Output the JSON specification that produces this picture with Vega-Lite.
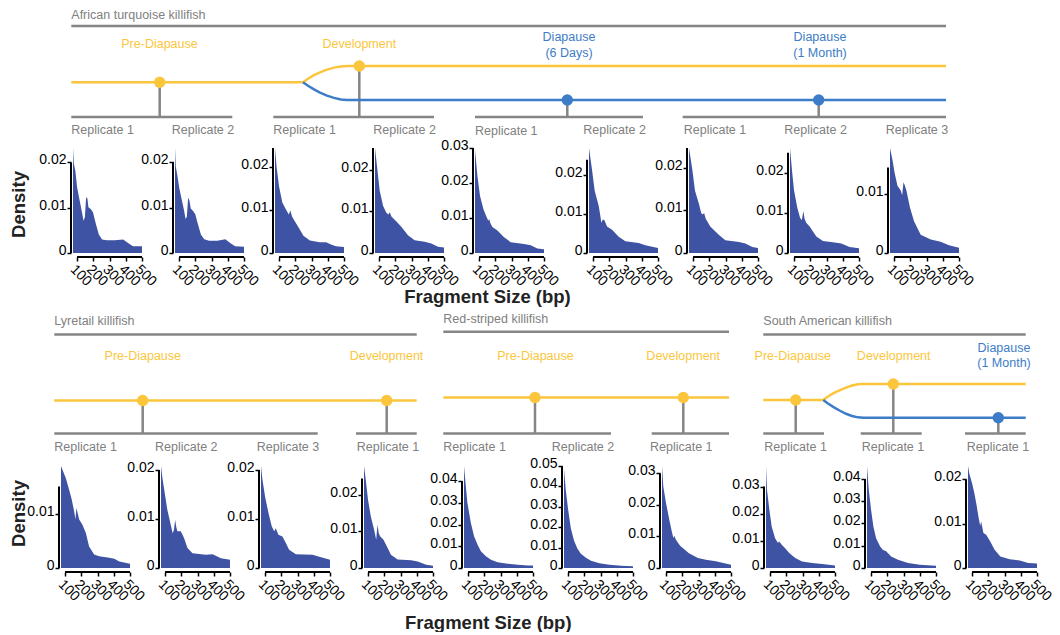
{
"$schema":"https://vega.github.io/schema/vega-lite/v6.json",
"padding":0,
"background":"white",
"config":{
 "font":"Liberation Sans",
 "view":{"stroke":null},
 "axisX":{"domain":false,"grid":false,"offset":4,"tickSize":4,"tickWidth":1.5,"tickColor":"#000","labelAngle":45,"labelAlign":"left","labelBaseline":"top","labelFontSize":14,"labelColor":"#000","labelPadding":1,"labelOverlap":false,"labelFlush":false,"labelBound":false,"tickCount":20},
 "axisY":{"domain":false,"grid":false,"offset":2,"tickSize":4,"tickWidth":1.5,"tickColor":"#000","labelFontSize":14,"labelColor":"#000","labelPadding":1,"labelOverlap":false,"labelFlush":false,"labelBaseline":"middle","labelOffset":-2.5,"tickCount":20}
},
"datasets":{
 "sA_rules":[
  {"x":71.3,"y":26,"x2":946,"y2":26},
  {"x":71.3,"y":117,"x2":232.3,"y2":117},
  {"x":273.3,"y":117,"x2":434,"y2":117},
  {"x":475,"y":117,"x2":643,"y2":117},
  {"x":682.7,"y":117,"x2":946,"y2":117},
  {"x":159.7,"y":82.3,"x2":159.7,"y2":117},
  {"x":359.3,"y":66,"x2":359.3,"y2":117},
  {"x":567.3,"y":100,"x2":567.3,"y2":117},
  {"x":818.7,"y":100,"x2":818.7,"y2":117}
 ],
 "sA_lines":[
  {"g":"a","s":"Y","x":71.3,"y":82.3},{"g":"a","s":"Y","x":303,"y":82.3},{"g":"a","s":"Y","x":308,"y":78.8},{"g":"a","s":"Y","x":314,"y":75.2},{"g":"a","s":"Y","x":320,"y":72.3},{"g":"a","s":"Y","x":327,"y":69.6},{"g":"a","s":"Y","x":334,"y":67.6},{"g":"a","s":"Y","x":341,"y":66.4},{"g":"a","s":"Y","x":347,"y":66},{"g":"a","s":"Y","x":946,"y":66},
  {"g":"b","s":"B","x":303,"y":82.3},{"g":"b","s":"B","x":308,"y":85.8},{"g":"b","s":"B","x":314,"y":89.4},{"g":"b","s":"B","x":320,"y":92.6},{"g":"b","s":"B","x":327,"y":95.6},{"g":"b","s":"B","x":334,"y":97.9},{"g":"b","s":"B","x":341,"y":99.4},{"g":"b","s":"B","x":347,"y":100},{"g":"b","s":"B","x":946,"y":100}
 ],
 "sA_dots":[
  {"x":159.7,"y":82.3,"s":"Y"},{"x":359.3,"y":66,"s":"Y"},{"x":567.3,"y":100,"s":"B"},{"x":818.7,"y":100,"s":"B"}
 ],
 "sA_left":[
  {"x":71.3,"y":14.7,"t":"African turquoise killifish"},
  {"x":71.3,"y":130,"t":"Replicate 1"},{"x":171.7,"y":130,"t":"Replicate 2"},
  {"x":273.3,"y":130,"t":"Replicate 1"},{"x":373.3,"y":130,"t":"Replicate 2"},
  {"x":475,"y":131,"t":"Replicate 1"},{"x":583.3,"y":130,"t":"Replicate 2"},
  {"x":683.7,"y":130,"t":"Replicate 1"},{"x":784.3,"y":130,"t":"Replicate 2"},{"x":885.7,"y":130,"t":"Replicate 3"}
 ],
 "sA_center":[
  {"x":159.5,"y":44.3,"t":"Pre-Diapause","s":"Y"},{"x":359.3,"y":44.3,"t":"Development","s":"Y"},
  {"x":569,"y":37.3,"t":"Diapause","s":"B"},{"x":569,"y":53.3,"t":"(6 Days)","s":"B"},
  {"x":820,"y":37.3,"t":"Diapause","s":"B"},{"x":820,"y":53.3,"t":"(1 Month)","s":"B"}
 ],
 "sC_rules":[
  {"x":54.3,"y":332.7,"x2":416.7,"y2":332.7},{"x":54.3,"y":431.7,"x2":317.7,"y2":431.7},{"x":356,"y":431.7,"x2":416.7,"y2":431.7},
  {"x":142.7,"y":398.7,"x2":142.7,"y2":431.7},{"x":386.7,"y":398.7,"x2":386.7,"y2":431.7},
  {"x":443.3,"y":330,"x2":729,"y2":330},{"x":443.3,"y":431.7,"x2":611,"y2":431.7},{"x":651.7,"y":431.7,"x2":729,"y2":431.7},
  {"x":535,"y":395.7,"x2":535,"y2":431.7},{"x":683.3,"y":395.7,"x2":683.3,"y2":431.7},
  {"x":763.3,"y":332.7,"x2":1025.7,"y2":332.7},{"x":763.3,"y":431.7,"x2":824,"y2":431.7},{"x":860.7,"y":431.7,"x2":921.7,"y2":431.7},{"x":965,"y":431.7,"x2":1025.7,"y2":431.7},
  {"x":795.7,"y":398.3,"x2":795.7,"y2":431.7},{"x":893.3,"y":382.3,"x2":893.3,"y2":431.7},{"x":998.3,"y":416,"x2":998.3,"y2":431.7}
 ],
 "sC_lines":[
  {"g":"l","s":"Y","x":54.3,"y":398.7},{"g":"l","s":"Y","x":416.7,"y":398.7},
  {"g":"r","s":"Y","x":443.3,"y":395.7},{"g":"r","s":"Y","x":729,"y":395.7},
  {"g":"sy","s":"Y","x":763.3,"y":398.3},{"g":"sy","s":"Y","x":823.3,"y":398.3},{"g":"sy","s":"Y","x":828,"y":394.8},{"g":"sy","s":"Y","x":834,"y":391.2},{"g":"sy","s":"Y","x":840,"y":388.3},{"g":"sy","s":"Y","x":846,"y":385.8},{"g":"sy","s":"Y","x":852,"y":383.8},{"g":"sy","s":"Y","x":858,"y":382.6},{"g":"sy","s":"Y","x":863.3,"y":382.3},{"g":"sy","s":"Y","x":1025.7,"y":382.3},
  {"g":"sb","s":"B","x":823.3,"y":398.3},{"g":"sb","s":"B","x":828,"y":401.8},{"g":"sb","s":"B","x":834,"y":405.6},{"g":"sb","s":"B","x":840,"y":409},{"g":"sb","s":"B","x":846,"y":412},{"g":"sb","s":"B","x":852,"y":414.2},{"g":"sb","s":"B","x":858,"y":415.6},{"g":"sb","s":"B","x":863.3,"y":416},{"g":"sb","s":"B","x":1025.7,"y":416}
 ],
 "sC_dots":[
  {"x":142.7,"y":398.7,"s":"Y"},{"x":386.7,"y":398.7,"s":"Y"},{"x":535,"y":395.7,"s":"Y"},{"x":683.3,"y":395.7,"s":"Y"},
  {"x":795.7,"y":398.3,"s":"Y"},{"x":893.3,"y":382.3,"s":"Y"},{"x":998.3,"y":416,"s":"B"}
 ],
 "sC_left":[
  {"x":54.3,"y":319.7,"t":"Lyretail killifish"},{"x":443.3,"y":317.7,"t":"Red-striped killifish"},{"x":763.3,"y":319.7,"t":"South American killifish"},
  {"x":54.3,"y":445,"t":"Replicate 1"},{"x":155,"y":445,"t":"Replicate 2"},{"x":256.7,"y":445,"t":"Replicate 3"},{"x":356.7,"y":445,"t":"Replicate 1"},
  {"x":443.3,"y":445,"t":"Replicate 1"},{"x":551.7,"y":445,"t":"Replicate 2"},{"x":650,"y":445,"t":"Replicate 1"},
  {"x":764.3,"y":445,"t":"Replicate 1"},{"x":861.7,"y":445,"t":"Replicate 1"},{"x":966.7,"y":445,"t":"Replicate 1"}
 ],
 "sC_center":[
  {"x":142.8,"y":354.3,"t":"Pre-Diapause","s":"Y"},{"x":386.5,"y":354.3,"t":"Development","s":"Y"},
  {"x":535.5,"y":354.3,"t":"Pre-Diapause","s":"Y"},{"x":683.2,"y":354.3,"t":"Development","s":"Y"},
  {"x":792.8,"y":354.3,"t":"Pre-Diapause","s":"Y"},{"x":893.7,"y":354.3,"t":"Development","s":"Y"},
  {"x":1004,"y":346.7,"t":"Diapause","s":"B"},{"x":1004,"y":361.7,"t":"(1 Month)","s":"B"}
 ],
 "r1p1":[{"bp":75,"d":0.0232},{"bp":80,"d":0.0198},{"bp":90,"d":0.018},{"bp":100,"d":0.0146},{"bp":114,"d":0.012},{"bp":130,"d":0.009},{"bp":140,"d":0.0071},{"bp":148,"d":0.0079},{"bp":156,"d":0.0124},{"bp":164,"d":0.012},{"bp":170,"d":0.0101},{"bp":184,"d":0.0097},{"bp":198,"d":0.009},{"bp":214,"d":0.0067},{"bp":234,"d":0.0041},{"bp":254,"d":0.003},{"bp":284,"d":0.0028},{"bp":334,"d":0.0028},{"bp":384,"d":0.003},{"bp":414,"d":0.0022},{"bp":444,"d":0.0015},{"bp":500,"d":0.0015}],
 "r1p2":[{"bp":75,"d":0.0231},{"bp":80,"d":0.019},{"bp":90,"d":0.017},{"bp":100,"d":0.0145},{"bp":115,"d":0.012},{"bp":130,"d":0.0095},{"bp":140,"d":0.0075},{"bp":148,"d":0.008},{"bp":156,"d":0.0122},{"bp":164,"d":0.0115},{"bp":172,"d":0.0098},{"bp":185,"d":0.0093},{"bp":200,"d":0.0085},{"bp":215,"d":0.0065},{"bp":235,"d":0.004},{"bp":255,"d":0.003},{"bp":285,"d":0.0027},{"bp":335,"d":0.0027},{"bp":385,"d":0.003},{"bp":415,"d":0.0022},{"bp":445,"d":0.0015},{"bp":500,"d":0.0014}],
 "r1p3":[{"bp":75,"d":0.0245},{"bp":85,"d":0.02},{"bp":100,"d":0.0155},{"bp":120,"d":0.0118},{"bp":140,"d":0.0103},{"bp":160,"d":0.009},{"bp":170,"d":0.0099},{"bp":180,"d":0.0085},{"bp":195,"d":0.0075},{"bp":215,"d":0.0063},{"bp":250,"d":0.004},{"bp":290,"d":0.0029},{"bp":350,"d":0.0025},{"bp":390,"d":0.0025},{"bp":420,"d":0.002},{"bp":450,"d":0.0016},{"bp":500,"d":0.0014}],
 "r1p4":[{"bp":75,"d":0.0253},{"bp":90,"d":0.02},{"bp":104,"d":0.015},{"bp":125,"d":0.0113},{"bp":145,"d":0.0097},{"bp":158,"d":0.0093},{"bp":166,"d":0.0098},{"bp":176,"d":0.0088},{"bp":207,"d":0.0076},{"bp":237,"d":0.0063},{"bp":278,"d":0.0043},{"bp":319,"d":0.0031},{"bp":381,"d":0.0027},{"bp":422,"d":0.0023},{"bp":463,"d":0.0015},{"bp":500,"d":0.0013}],
 "r1p5":[{"bp":75,"d":0.0295},{"bp":90,"d":0.022},{"bp":106,"d":0.0163},{"bp":127,"d":0.0125},{"bp":147,"d":0.0102},{"bp":157,"d":0.0092},{"bp":162,"d":0.0097},{"bp":170,"d":0.0085},{"bp":182,"d":0.0074},{"bp":213,"d":0.0064},{"bp":254,"d":0.0045},{"bp":295,"d":0.0031},{"bp":377,"d":0.0026},{"bp":418,"d":0.0022},{"bp":459,"d":0.0013},{"bp":500,"d":0.0011}],
 "r1p6":[{"bp":75,"d":0.027},{"bp":94,"d":0.0213},{"bp":110,"d":0.016},{"bp":135,"d":0.0121},{"bp":145,"d":0.0095},{"bp":151,"d":0.0078},{"bp":160,"d":0.0086},{"bp":170,"d":0.0084},{"bp":186,"d":0.0068},{"bp":217,"d":0.006},{"bp":258,"d":0.0042},{"bp":299,"d":0.003},{"bp":381,"d":0.0026},{"bp":422,"d":0.002},{"bp":500,"d":0.0013}],
 "r1p7":[{"bp":75,"d":0.0246},{"bp":96,"d":0.0194},{"bp":112,"d":0.0146},{"bp":137,"d":0.0114},{"bp":150,"d":0.0094},{"bp":160,"d":0.009},{"bp":168,"d":0.0094},{"bp":178,"d":0.008},{"bp":206,"d":0.0062},{"bp":260,"d":0.0042},{"bp":299,"d":0.003},{"bp":383,"d":0.0026},{"bp":422,"d":0.0022},{"bp":465,"d":0.0014},{"bp":500,"d":0.0012}],
 "r1p8":[{"bp":75,"d":0.0262},{"bp":88,"d":0.0203},{"bp":100,"d":0.0156},{"bp":120,"d":0.0113},{"bp":137,"d":0.0088},{"bp":148,"d":0.0082},{"bp":157,"d":0.0105},{"bp":165,"d":0.0085},{"bp":176,"d":0.0075},{"bp":196,"d":0.0066},{"bp":237,"d":0.0041},{"bp":278,"d":0.003},{"bp":350,"d":0.0026},{"bp":391,"d":0.0024},{"bp":442,"d":0.0015},{"bp":500,"d":0.0012}],
 "r1p9":[{"bp":75,"d":0.0178},{"bp":90,"d":0.0158},{"bp":104,"d":0.0135},{"bp":121,"d":0.0114},{"bp":141,"d":0.0106},{"bp":150,"d":0.0098},{"bp":158,"d":0.012},{"bp":166,"d":0.0115},{"bp":176,"d":0.0106},{"bp":198,"d":0.0077},{"bp":223,"d":0.0054},{"bp":264,"d":0.0031},{"bp":326,"d":0.0023},{"bp":387,"d":0.0019},{"bp":438,"d":0.0013},{"bp":500,"d":0.0009}],
 "r2p1":[{"bp":75,"d":0.0189},{"bp":84,"d":0.0182},{"bp":104,"d":0.0167},{"bp":125,"d":0.0145},{"bp":141,"d":0.0127},{"bp":156,"d":0.0105},{"bp":164,"d":0.009},{"bp":170,"d":0.0111},{"bp":187,"d":0.009},{"bp":207,"d":0.008},{"bp":228,"d":0.0065},{"bp":248,"d":0.004},{"bp":279,"d":0.0025},{"bp":310,"d":0.0022},{"bp":372,"d":0.0019},{"bp":403,"d":0.0017},{"bp":434,"d":0.0012},{"bp":500,"d":0.0008}],
 "r2p2":[{"bp":75,"d":0.0208},{"bp":84,"d":0.0183},{"bp":98,"d":0.0153},{"bp":114,"d":0.0119},{"bp":135,"d":0.0088},{"bp":147,"d":0.0071},{"bp":155,"d":0.0078},{"bp":162,"d":0.0098},{"bp":170,"d":0.0082},{"bp":176,"d":0.0075},{"bp":197,"d":0.0075},{"bp":217,"d":0.0061},{"bp":238,"d":0.0041},{"bp":269,"d":0.003},{"bp":351,"d":0.0027},{"bp":393,"d":0.0028},{"bp":444,"d":0.002},{"bp":500,"d":0.0017}],
 "r2p3":[{"bp":75,"d":0.0208},{"bp":84,"d":0.018},{"bp":100,"d":0.0146},{"bp":121,"d":0.0112},{"bp":141,"d":0.0085},{"bp":156,"d":0.0075},{"bp":166,"d":0.0081},{"bp":182,"d":0.0068},{"bp":207,"d":0.0064},{"bp":228,"d":0.0051},{"bp":248,"d":0.0037},{"bp":290,"d":0.0028},{"bp":393,"d":0.0027},{"bp":423,"d":0.0024},{"bp":500,"d":0.0017}],
 "r2p4":[{"bp":75,"d":0.0279},{"bp":86,"d":0.0241},{"bp":100,"d":0.0186},{"bp":117,"d":0.0141},{"bp":137,"d":0.0105},{"bp":150,"d":0.0077},{"bp":158,"d":0.0118},{"bp":166,"d":0.0095},{"bp":175,"d":0.0086},{"bp":195,"d":0.0077},{"bp":216,"d":0.0059},{"bp":241,"d":0.0036},{"bp":282,"d":0.0023},{"bp":365,"d":0.0021},{"bp":406,"d":0.0018},{"bp":458,"d":0.0009},{"bp":500,"d":0.0006}],
 "r2p5":[{"bp":75,"d":0.0469},{"bp":86,"d":0.0377},{"bp":96,"d":0.03},{"bp":117,"d":0.0208},{"bp":137,"d":0.0146},{"bp":158,"d":0.0108},{"bp":179,"d":0.0077},{"bp":210,"d":0.0054},{"bp":241,"d":0.0038},{"bp":282,"d":0.0026},{"bp":344,"d":0.002},{"bp":406,"d":0.0015},{"bp":468,"d":0.0012},{"bp":500,"d":0.0011}],
 "r2p6":[{"bp":75,"d":0.0484},{"bp":86,"d":0.0383},{"bp":100,"d":0.0289},{"bp":117,"d":0.0195},{"bp":137,"d":0.0133},{"bp":158,"d":0.0094},{"bp":179,"d":0.007},{"bp":210,"d":0.005},{"bp":241,"d":0.0036},{"bp":293,"d":0.0023},{"bp":355,"d":0.0016},{"bp":427,"d":0.0011},{"bp":500,"d":0.0008}],
 "r2p7":[{"bp":75,"d":0.0323},{"bp":83,"d":0.0258},{"bp":100,"d":0.0205},{"bp":120,"d":0.0153},{"bp":135,"d":0.0116},{"bp":145,"d":0.0095},{"bp":151,"d":0.0102},{"bp":160,"d":0.009},{"bp":182,"d":0.0074},{"bp":192,"d":0.0068},{"bp":241,"d":0.0047},{"bp":296,"d":0.0032},{"bp":345,"d":0.0026},{"bp":406,"d":0.0021},{"bp":500,"d":0.001}],
 "r2p8":[{"bp":75,"d":0.0376},{"bp":81,"d":0.0288},{"bp":96,"d":0.0214},{"bp":110,"d":0.0153},{"bp":131,"d":0.011},{"bp":148,"d":0.0093},{"bp":156,"d":0.0098},{"bp":172,"d":0.0086},{"bp":193,"d":0.0073},{"bp":218,"d":0.0055},{"bp":255,"d":0.0037},{"bp":297,"d":0.0024},{"bp":359,"d":0.0018},{"bp":421,"d":0.0015},{"bp":500,"d":0.0009}],
 "r2p9":[{"bp":75,"d":0.0458},{"bp":86,"d":0.0351},{"bp":100,"d":0.0261},{"bp":114,"d":0.0187},{"bp":131,"d":0.0134},{"bp":156,"d":0.0097},{"bp":172,"d":0.0082},{"bp":193,"d":0.0075},{"bp":224,"d":0.0052},{"bp":266,"d":0.0037},{"bp":328,"d":0.0022},{"bp":400,"d":0.0015},{"bp":500,"d":0.001}],
 "r2p10":[{"bp":75,"d":0.023},{"bp":83,"d":0.0213},{"bp":100,"d":0.0191},{"bp":114,"d":0.0169},{"bp":129,"d":0.0139},{"bp":141,"d":0.0112},{"bp":150,"d":0.0095},{"bp":156,"d":0.0105},{"bp":170,"d":0.0079},{"bp":187,"d":0.0075},{"bp":212,"d":0.006},{"bp":239,"d":0.0041},{"bp":274,"d":0.0026},{"bp":332,"d":0.002},{"bp":394,"d":0.0017},{"bp":446,"d":0.0011},{"bp":500,"d":0.001}]
},
"vconcat":[
 {"width":1060,"height":137,
  "encoding":{"x":{"field":"x","type":"quantitative","scale":{"domain":[0,1060],"nice":false,"zero":false},"axis":null},"y":{"field":"y","type":"quantitative","scale":{"domain":[137,0],"nice":false,"zero":false},"axis":null}},
  "layer":[
   {"data":{"name":"sA_rules"},"mark":{"type":"rule","color":"#858585","strokeWidth":2.5},"encoding":{"x2":{"field":"x2"},"y2":{"field":"y2"}}},
   {"data":{"name":"sA_lines"},"mark":{"type":"line","strokeWidth":2.5},"encoding":{"color":{"field":"s","type":"nominal","scale":{"domain":["Y","B"],"range":["#FBC63C","#3D7CC6"]},"legend":null},"detail":{"field":"g"}}},
   {"data":{"name":"sA_dots"},"mark":{"type":"circle","size":130,"opacity":1},"encoding":{"color":{"field":"s","type":"nominal","scale":{"domain":["Y","B"],"range":["#FBC63C","#3D7CC6"]},"legend":null}}},
   {"data":{"name":"sA_left"},"mark":{"type":"text","align":"left","baseline":"middle","fontSize":12.5,"color":"#808080"},"encoding":{"text":{"field":"t"}}},
   {"data":{"name":"sA_center"},"mark":{"type":"text","align":"center","baseline":"middle","fontSize":12.5},"encoding":{"text":{"field":"t"},"color":{"field":"s","type":"nominal","scale":{"domain":["Y","B"],"range":["#FBC63C","#3D7CC6"]},"legend":null}}}
  ]},
 {"hconcat":[
   {"width":72.7,"height":20,"data":{"values":[{}]},"mark":{"type":"point","opacity":0}},
   {"width":69,"height":105,"layer":[
     {"data":{"name":"r1p1"},"mark":{"type":"area","color":"#3F53A4"},"encoding":{"x":{"field":"bp","type":"quantitative","scale":{"domain":[75,500],"nice":false,"zero":false},"axis":{"values":[100,200,300,400,500],"title":null,"labelOverlap":false,"tickCount":20}},"y":{"field":"d","type":"quantitative","scale":{"domain":[0,0.0232],"nice":false},"axis":{"values":[0,0.01,0.02],"format":".2~f","labelOverlap":false,"tickCount":20,"title":"Density","titleX":-52.2,"titleY":56,"titleFontSize":18.5,"titleFontWeight":"bold","titleColor":"#222","titleBaseline":"middle","titleAlign":"center","titleAngle":-90}}}},
     {"data":{"values":[{}]},"mark":{"type":"rule","color":"#000","strokeWidth":2,"xOffset":-2},"encoding":{"x":{"datum":75},"y":{"datum":0},"y2":{"datum":0.02}}},
     {"data":{"values":[{}]},"mark":{"type":"rule","color":"#000","strokeWidth":2,"yOffset":4},"encoding":{"x":{"datum":100},"x2":{"datum":500},"y":{"datum":0}}}]},
   {"width":33,"height":20,"data":{"values":[{}]},"mark":{"type":"point","opacity":0}},
   {"width":69,"height":105,"layer":[
     {"data":{"name":"r1p2"},"mark":{"type":"area","color":"#3F53A4"},"encoding":{"x":{"field":"bp","type":"quantitative","scale":{"domain":[75,500],"nice":false,"zero":false},"axis":{"values":[100,200,300,400,500],"title":null,"labelOverlap":false,"tickCount":20}},"y":{"field":"d","type":"quantitative","scale":{"domain":[0,0.0231],"nice":false},"axis":{"values":[0,0.01,0.02],"format":".2~f","labelOverlap":false,"tickCount":20,"title":null}}}},
     {"data":{"values":[{}]},"mark":{"type":"rule","color":"#000","strokeWidth":2,"xOffset":-2},"encoding":{"x":{"datum":75},"y":{"datum":0},"y2":{"datum":0.02}}},
     {"data":{"values":[{}]},"mark":{"type":"rule","color":"#000","strokeWidth":2,"yOffset":4},"encoding":{"x":{"datum":100},"x2":{"datum":500},"y":{"datum":0}}}]},
   {"width":31,"height":20,"data":{"values":[{}]},"mark":{"type":"point","opacity":0}},
   {"width":69,"height":105,"layer":[
     {"data":{"name":"r1p3"},"mark":{"type":"area","color":"#3F53A4"},"encoding":{"x":{"field":"bp","type":"quantitative","scale":{"domain":[75,500],"nice":false,"zero":false},"axis":{"values":[100,200,300,400,500],"title":null,"labelOverlap":false,"tickCount":20}},"y":{"field":"d","type":"quantitative","scale":{"domain":[0,0.0245],"nice":false},"axis":{"values":[0,0.01,0.02],"format":".2~f","labelOverlap":false,"tickCount":20,"title":null}}}},
     {"data":{"values":[{}]},"mark":{"type":"rule","color":"#000","strokeWidth":2,"xOffset":-2},"encoding":{"x":{"datum":75},"y":{"datum":0},"y2":{"datum":0.0245}}},
     {"data":{"values":[{}]},"mark":{"type":"rule","color":"#000","strokeWidth":2,"yOffset":4},"encoding":{"x":{"datum":100},"x2":{"datum":500},"y":{"datum":0}}}]},
   {"width":31,"height":20,"data":{"values":[{}]},"mark":{"type":"point","opacity":0}},
   {"width":69,"height":105,"layer":[
     {"data":{"name":"r1p4"},"mark":{"type":"area","color":"#3F53A4"},"encoding":{"x":{"field":"bp","type":"quantitative","scale":{"domain":[75,500],"nice":false,"zero":false},"axis":{"values":[100,200,300,400,500],"title":null,"labelOverlap":false,"tickCount":20}},"y":{"field":"d","type":"quantitative","scale":{"domain":[0,0.0253],"nice":false},"axis":{"values":[0,0.01,0.02],"format":".2~f","labelOverlap":false,"tickCount":20,"title":null}}}},
     {"data":{"values":[{}]},"mark":{"type":"rule","color":"#000","strokeWidth":2,"xOffset":-2},"encoding":{"x":{"datum":75},"y":{"datum":0},"y2":{"datum":0.0253}}},
     {"data":{"values":[{}]},"mark":{"type":"rule","color":"#000","strokeWidth":2,"yOffset":4},"encoding":{"x":{"datum":100},"x2":{"datum":500},"y":{"datum":0}}}]},
   {"width":31,"height":20,"data":{"values":[{}]},"mark":{"type":"point","opacity":0}},
   {"width":69,"height":105,"layer":[
     {"data":{"name":"r1p5"},"mark":{"type":"area","color":"#3F53A4"},"encoding":{"x":{"field":"bp","type":"quantitative","scale":{"domain":[75,500],"nice":false,"zero":false},"axis":{"values":[100,200,300,400,500],"labelOverlap":false,"tickCount":20,"title":"Fragment Size (bp)","titleX":12,"titleY":39,"titleAlign":"center","titleBaseline":"middle","titleAngle":0,"titleFontSize":18.5,"titleFontWeight":"bold","titleColor":"#222"}},"y":{"field":"d","type":"quantitative","scale":{"domain":[0,0.03],"nice":false},"axis":{"values":[0,0.01,0.02,0.03],"format":".2~f","labelOverlap":false,"tickCount":20,"title":null}}}},
     {"data":{"values":[{}]},"mark":{"type":"rule","color":"#000","strokeWidth":2,"xOffset":-2},"encoding":{"x":{"datum":75},"y":{"datum":0},"y2":{"datum":0.03}}},
     {"data":{"values":[{}]},"mark":{"type":"rule","color":"#000","strokeWidth":2,"yOffset":4},"encoding":{"x":{"datum":100},"x2":{"datum":500},"y":{"datum":0}}}]},
   {"width":44.3,"height":20,"data":{"values":[{}]},"mark":{"type":"point","opacity":0}},
   {"width":69,"height":105,"layer":[
     {"data":{"name":"r1p6"},"mark":{"type":"area","color":"#3F53A4"},"encoding":{"x":{"field":"bp","type":"quantitative","scale":{"domain":[75,500],"nice":false,"zero":false},"axis":{"values":[100,200,300,400,500],"title":null,"labelOverlap":false,"tickCount":20}},"y":{"field":"d","type":"quantitative","scale":{"domain":[0,0.027],"nice":false},"axis":{"values":[0,0.01,0.02],"format":".2~f","labelOverlap":false,"tickCount":20,"title":null}}}},
     {"data":{"values":[{}]},"mark":{"type":"rule","color":"#000","strokeWidth":2,"xOffset":-2},"encoding":{"x":{"datum":75},"y":{"datum":0},"y2":{"datum":0.024}}},
     {"data":{"values":[{}]},"mark":{"type":"rule","color":"#000","strokeWidth":2,"yOffset":4},"encoding":{"x":{"datum":100},"x2":{"datum":500},"y":{"datum":0}}}]},
   {"width":31,"height":20,"data":{"values":[{}]},"mark":{"type":"point","opacity":0}},
   {"width":69,"height":105,"layer":[
     {"data":{"name":"r1p7"},"mark":{"type":"area","color":"#3F53A4"},"encoding":{"x":{"field":"bp","type":"quantitative","scale":{"domain":[75,500],"nice":false,"zero":false},"axis":{"values":[100,200,300,400,500],"title":null,"labelOverlap":false,"tickCount":20}},"y":{"field":"d","type":"quantitative","scale":{"domain":[0,0.0246],"nice":false},"axis":{"values":[0,0.01,0.02],"format":".2~f","labelOverlap":false,"tickCount":20,"title":null}}}},
     {"data":{"values":[{}]},"mark":{"type":"rule","color":"#000","strokeWidth":2,"xOffset":-2},"encoding":{"x":{"datum":75},"y":{"datum":0},"y2":{"datum":0.0246}}},
     {"data":{"values":[{}]},"mark":{"type":"rule","color":"#000","strokeWidth":2,"yOffset":4},"encoding":{"x":{"datum":100},"x2":{"datum":500},"y":{"datum":0}}}]},
   {"width":31.7,"height":20,"data":{"values":[{}]},"mark":{"type":"point","opacity":0}},
   {"width":69,"height":105,"layer":[
     {"data":{"name":"r1p8"},"mark":{"type":"area","color":"#3F53A4"},"encoding":{"x":{"field":"bp","type":"quantitative","scale":{"domain":[75,500],"nice":false,"zero":false},"axis":{"values":[100,200,300,400,500],"title":null,"labelOverlap":false,"tickCount":20}},"y":{"field":"d","type":"quantitative","scale":{"domain":[0,0.0262],"nice":false},"axis":{"values":[0,0.01,0.02],"format":".2~f","labelOverlap":false,"tickCount":20,"title":null}}}},
     {"data":{"values":[{}]},"mark":{"type":"rule","color":"#000","strokeWidth":2,"xOffset":-2},"encoding":{"x":{"datum":75},"y":{"datum":0},"y2":{"datum":0.025}}},
     {"data":{"values":[{}]},"mark":{"type":"rule","color":"#000","strokeWidth":2,"yOffset":4},"encoding":{"x":{"datum":100},"x2":{"datum":500},"y":{"datum":0}}}]},
   {"width":31,"height":20,"data":{"values":[{}]},"mark":{"type":"point","opacity":0}},
   {"width":69,"height":105,"layer":[
     {"data":{"name":"r1p9"},"mark":{"type":"area","color":"#3F53A4"},"encoding":{"x":{"field":"bp","type":"quantitative","scale":{"domain":[75,500],"nice":false,"zero":false},"axis":{"values":[100,200,300,400,500],"title":null,"labelOverlap":false,"tickCount":20}},"y":{"field":"d","type":"quantitative","scale":{"domain":[0,0.0178],"nice":false},"axis":{"values":[0,0.01],"format":".2~f","labelOverlap":false,"tickCount":20,"title":null}}}},
     {"data":{"values":[{}]},"mark":{"type":"rule","color":"#000","strokeWidth":2,"xOffset":-2},"encoding":{"x":{"datum":75},"y":{"datum":0},"y2":{"datum":0.0145}}},
     {"data":{"values":[{}]},"mark":{"type":"rule","color":"#000","strokeWidth":2,"yOffset":4},"encoding":{"x":{"datum":100},"x2":{"datum":500},"y":{"datum":0}}}]}
 ],"spacing":0,"bounds":"flush"},
 {"width":1060,"height":149.75,
  "encoding":{"x":{"field":"x","type":"quantitative","scale":{"domain":[0,1060],"nice":false,"zero":false},"axis":null},"y":{"field":"y","type":"quantitative","scale":{"domain":[454,304.25],"nice":false,"zero":false},"axis":null}},
  "layer":[
   {"data":{"name":"sC_rules"},"mark":{"type":"rule","color":"#858585","strokeWidth":2.5},"encoding":{"x2":{"field":"x2"},"y2":{"field":"y2"}}},
   {"data":{"name":"sC_lines"},"mark":{"type":"line","strokeWidth":2.5},"encoding":{"color":{"field":"s","type":"nominal","scale":{"domain":["Y","B"],"range":["#FBC63C","#3D7CC6"]},"legend":null},"detail":{"field":"g"}}},
   {"data":{"name":"sC_dots"},"mark":{"type":"circle","size":130,"opacity":1},"encoding":{"color":{"field":"s","type":"nominal","scale":{"domain":["Y","B"],"range":["#FBC63C","#3D7CC6"]},"legend":null}}},
   {"data":{"name":"sC_left"},"mark":{"type":"text","align":"left","baseline":"middle","fontSize":12.5,"color":"#808080"},"encoding":{"text":{"field":"t"}}},
   {"data":{"name":"sC_center"},"mark":{"type":"text","align":"center","baseline":"middle","fontSize":12.5},"encoding":{"text":{"field":"t"},"color":{"field":"s","type":"nominal","scale":{"domain":["Y","B"],"range":["#FBC63C","#3D7CC6"]},"legend":null}}}
  ]},
 {"hconcat":[
   {"width":61,"height":20,"data":{"values":[{}]},"mark":{"type":"point","opacity":0}},
   {"width":69,"height":102,"layer":[
     {"data":{"name":"r2p1"},"mark":{"type":"area","color":"#3F53A4"},"encoding":{"x":{"field":"bp","type":"quantitative","scale":{"domain":[75,500],"nice":false,"zero":false},"axis":{"values":[100,200,300,400,500],"title":null,"labelOverlap":false,"tickCount":20}},"y":{"field":"d","type":"quantitative","scale":{"domain":[0,0.0189],"nice":false},"axis":{"values":[0,0.01],"format":".2~f","labelOverlap":false,"tickCount":20,"title":"Density","titleX":-40.5,"titleY":47,"titleFontSize":18.5,"titleFontWeight":"bold","titleColor":"#222","titleBaseline":"middle","titleAlign":"center","titleAngle":-90}}}},
     {"data":{"values":[{}]},"mark":{"type":"rule","color":"#000","strokeWidth":2,"xOffset":-2},"encoding":{"x":{"datum":75},"y":{"datum":0},"y2":{"datum":0.0151}}},
     {"data":{"values":[{}]},"mark":{"type":"rule","color":"#000","strokeWidth":2,"yOffset":4},"encoding":{"x":{"datum":100},"x2":{"datum":500},"y":{"datum":0}}}]},
   {"width":31,"height":20,"data":{"values":[{}]},"mark":{"type":"point","opacity":0}},
   {"width":69,"height":102,"layer":[
     {"data":{"name":"r2p2"},"mark":{"type":"area","color":"#3F53A4"},"encoding":{"x":{"field":"bp","type":"quantitative","scale":{"domain":[75,500],"nice":false,"zero":false},"axis":{"values":[100,200,300,400,500],"title":null,"labelOverlap":false,"tickCount":20}},"y":{"field":"d","type":"quantitative","scale":{"domain":[0,0.0208],"nice":false},"axis":{"values":[0,0.01,0.02],"format":".2~f","labelOverlap":false,"tickCount":20,"title":null}}}},
     {"data":{"values":[{}]},"mark":{"type":"rule","color":"#000","strokeWidth":2,"xOffset":-2},"encoding":{"x":{"datum":75},"y":{"datum":0},"y2":{"datum":0.02}}},
     {"data":{"values":[{}]},"mark":{"type":"rule","color":"#000","strokeWidth":2,"yOffset":4},"encoding":{"x":{"datum":100},"x2":{"datum":500},"y":{"datum":0}}}]},
   {"width":31,"height":20,"data":{"values":[{}]},"mark":{"type":"point","opacity":0}},
   {"width":69,"height":102,"layer":[
     {"data":{"name":"r2p3"},"mark":{"type":"area","color":"#3F53A4"},"encoding":{"x":{"field":"bp","type":"quantitative","scale":{"domain":[75,500],"nice":false,"zero":false},"axis":{"values":[100,200,300,400,500],"title":null,"labelOverlap":false,"tickCount":20}},"y":{"field":"d","type":"quantitative","scale":{"domain":[0,0.0208],"nice":false},"axis":{"values":[0,0.01,0.02],"format":".2~f","labelOverlap":false,"tickCount":20,"title":null}}}},
     {"data":{"values":[{}]},"mark":{"type":"rule","color":"#000","strokeWidth":2,"xOffset":-2},"encoding":{"x":{"datum":75},"y":{"datum":0},"y2":{"datum":0.02}}},
     {"data":{"values":[{}]},"mark":{"type":"rule","color":"#000","strokeWidth":2,"yOffset":4},"encoding":{"x":{"datum":100},"x2":{"datum":500},"y":{"datum":0}}}]},
   {"width":33.4,"height":20,"data":{"values":[{}]},"mark":{"type":"point","opacity":0}},
   {"width":69,"height":102,"layer":[
     {"data":{"name":"r2p4"},"mark":{"type":"area","color":"#3F53A4"},"encoding":{"x":{"field":"bp","type":"quantitative","scale":{"domain":[75,500],"nice":false,"zero":false},"axis":{"values":[100,200,300,400,500],"title":null,"labelOverlap":false,"tickCount":20}},"y":{"field":"d","type":"quantitative","scale":{"domain":[0,0.0279],"nice":false},"axis":{"values":[0,0.01,0.02],"format":".2~f","labelOverlap":false,"tickCount":20,"title":null}}}},
     {"data":{"values":[{}]},"mark":{"type":"rule","color":"#000","strokeWidth":2,"xOffset":-2},"encoding":{"x":{"datum":75},"y":{"datum":0},"y2":{"datum":0.0245}}},
     {"data":{"values":[{}]},"mark":{"type":"rule","color":"#000","strokeWidth":2,"yOffset":4},"encoding":{"x":{"datum":100},"x2":{"datum":500},"y":{"datum":0}}}]},
   {"width":30.5,"height":20,"data":{"values":[{}]},"mark":{"type":"point","opacity":0}},
   {"width":69,"height":102,"layer":[
     {"data":{"name":"r2p5"},"mark":{"type":"area","color":"#3F53A4"},"encoding":{"x":{"field":"bp","type":"quantitative","scale":{"domain":[75,500],"nice":false,"zero":false},"axis":{"values":[100,200,300,400,500],"labelOverlap":false,"tickCount":20,"title":"Fragment Size (bp)","titleX":23.8,"titleY":50,"titleAlign":"center","titleBaseline":"middle","titleAngle":0,"titleFontSize":18.5,"titleFontWeight":"bold","titleColor":"#222"}},"y":{"field":"d","type":"quantitative","scale":{"domain":[0,0.0469],"nice":false},"axis":{"values":[0,0.01,0.02,0.03,0.04],"format":".2~f","labelOverlap":false,"tickCount":20,"title":null}}}},
     {"data":{"values":[{}]},"mark":{"type":"rule","color":"#000","strokeWidth":2,"xOffset":-2},"encoding":{"x":{"datum":75},"y":{"datum":0},"y2":{"datum":0.04}}},
     {"data":{"values":[{}]},"mark":{"type":"rule","color":"#000","strokeWidth":2,"yOffset":4},"encoding":{"x":{"datum":100},"x2":{"datum":500},"y":{"datum":0}}}]},
   {"width":30.8,"height":20,"data":{"values":[{}]},"mark":{"type":"point","opacity":0}},
   {"width":69,"height":102,"layer":[
     {"data":{"name":"r2p6"},"mark":{"type":"area","color":"#3F53A4"},"encoding":{"x":{"field":"bp","type":"quantitative","scale":{"domain":[75,500],"nice":false,"zero":false},"axis":{"values":[100,200,300,400,500],"title":null,"labelOverlap":false,"tickCount":20}},"y":{"field":"d","type":"quantitative","scale":{"domain":[0,0.05],"nice":false},"axis":{"values":[0,0.01,0.02,0.03,0.04,0.05],"format":".2~f","labelOverlap":false,"tickCount":20,"title":null}}}},
     {"data":{"values":[{}]},"mark":{"type":"rule","color":"#000","strokeWidth":2,"xOffset":-2},"encoding":{"x":{"datum":75},"y":{"datum":0},"y2":{"datum":0.05}}},
     {"data":{"values":[{}]},"mark":{"type":"rule","color":"#000","strokeWidth":2,"yOffset":4},"encoding":{"x":{"datum":100},"x2":{"datum":500},"y":{"datum":0}}}]},
   {"width":28.3,"height":20,"data":{"values":[{}]},"mark":{"type":"point","opacity":0}},
   {"width":69,"height":102,"layer":[
     {"data":{"name":"r2p7"},"mark":{"type":"area","color":"#3F53A4"},"encoding":{"x":{"field":"bp","type":"quantitative","scale":{"domain":[75,500],"nice":false,"zero":false},"axis":{"values":[100,200,300,400,500],"title":null,"labelOverlap":false,"tickCount":20}},"y":{"field":"d","type":"quantitative","scale":{"domain":[0,0.0323],"nice":false},"axis":{"values":[0,0.01,0.02,0.03],"format":".2~f","labelOverlap":false,"tickCount":20,"title":null}}}},
     {"data":{"values":[{}]},"mark":{"type":"rule","color":"#000","strokeWidth":2,"xOffset":-2},"encoding":{"x":{"datum":75},"y":{"datum":0},"y2":{"datum":0.03}}},
     {"data":{"values":[{}]},"mark":{"type":"rule","color":"#000","strokeWidth":2,"yOffset":4},"encoding":{"x":{"datum":100},"x2":{"datum":500},"y":{"datum":0}}}]},
   {"width":34.4,"height":20,"data":{"values":[{}]},"mark":{"type":"point","opacity":0}},
   {"width":69,"height":102,"layer":[
     {"data":{"name":"r2p8"},"mark":{"type":"area","color":"#3F53A4"},"encoding":{"x":{"field":"bp","type":"quantitative","scale":{"domain":[75,500],"nice":false,"zero":false},"axis":{"values":[100,200,300,400,500],"title":null,"labelOverlap":false,"tickCount":20}},"y":{"field":"d","type":"quantitative","scale":{"domain":[0,0.0376],"nice":false},"axis":{"values":[0,0.01,0.02,0.03],"format":".2~f","labelOverlap":false,"tickCount":20,"title":null}}}},
     {"data":{"values":[{}]},"mark":{"type":"rule","color":"#000","strokeWidth":2,"xOffset":-2},"encoding":{"x":{"datum":75},"y":{"datum":0},"y2":{"datum":0.03}}},
     {"data":{"values":[{}]},"mark":{"type":"rule","color":"#000","strokeWidth":2,"yOffset":4},"encoding":{"x":{"datum":100},"x2":{"datum":500},"y":{"datum":0}}}]},
   {"width":32,"height":20,"data":{"values":[{}]},"mark":{"type":"point","opacity":0}},
   {"width":69,"height":102,"layer":[
     {"data":{"name":"r2p9"},"mark":{"type":"area","color":"#3F53A4"},"encoding":{"x":{"field":"bp","type":"quantitative","scale":{"domain":[75,500],"nice":false,"zero":false},"axis":{"values":[100,200,300,400,500],"title":null,"labelOverlap":false,"tickCount":20}},"y":{"field":"d","type":"quantitative","scale":{"domain":[0,0.0458],"nice":false},"axis":{"values":[0,0.01,0.02,0.03,0.04],"format":".2~f","labelOverlap":false,"tickCount":20,"title":null}}}},
     {"data":{"values":[{}]},"mark":{"type":"rule","color":"#000","strokeWidth":2,"xOffset":-2},"encoding":{"x":{"datum":75},"y":{"datum":0},"y2":{"datum":0.04}}},
     {"data":{"values":[{}]},"mark":{"type":"rule","color":"#000","strokeWidth":2,"yOffset":4},"encoding":{"x":{"datum":100},"x2":{"datum":500},"y":{"datum":0}}}]},
   {"width":31.6,"height":20,"data":{"values":[{}]},"mark":{"type":"point","opacity":0}},
   {"width":69,"height":102,"layer":[
     {"data":{"name":"r2p10"},"mark":{"type":"area","color":"#3F53A4"},"encoding":{"x":{"field":"bp","type":"quantitative","scale":{"domain":[75,500],"nice":false,"zero":false},"axis":{"values":[100,200,300,400,500],"title":null,"labelOverlap":false,"tickCount":20}},"y":{"field":"d","type":"quantitative","scale":{"domain":[0,0.023],"nice":false},"axis":{"values":[0,0.01,0.02],"format":".2~f","labelOverlap":false,"tickCount":20,"title":null}}}},
     {"data":{"values":[{}]},"mark":{"type":"rule","color":"#000","strokeWidth":2,"xOffset":-2},"encoding":{"x":{"datum":75},"y":{"datum":0},"y2":{"datum":0.02}}},
     {"data":{"values":[{}]},"mark":{"type":"rule","color":"#000","strokeWidth":2,"yOffset":4},"encoding":{"x":{"datum":100},"x2":{"datum":500},"y":{"datum":0}}}]}
 ],"spacing":0,"bounds":"flush"}
],
"spacing":0
}
